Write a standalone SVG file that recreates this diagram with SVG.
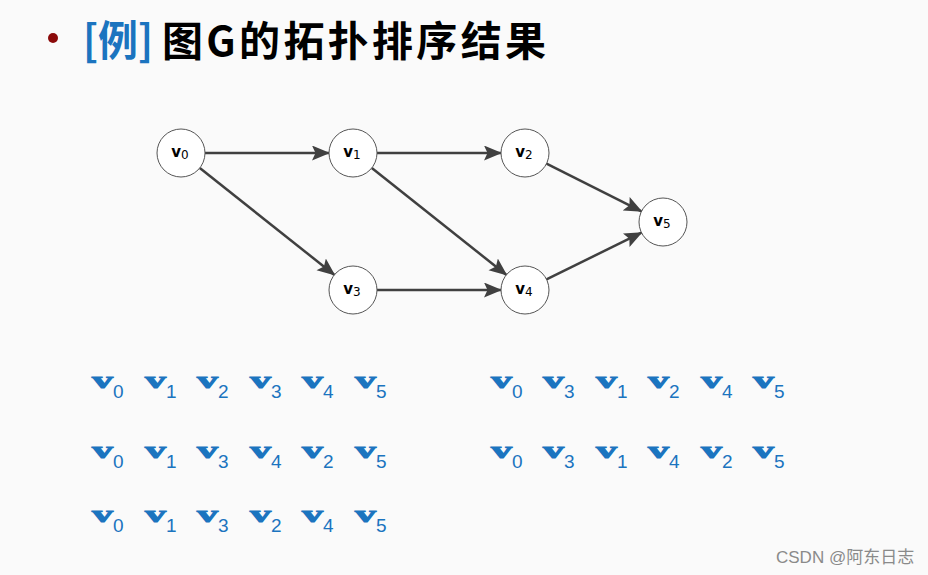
<svg xmlns="http://www.w3.org/2000/svg" width="928" height="575" viewBox="0 0 928 575">
<defs>
<marker id="ah" markerUnits="userSpaceOnUse" markerWidth="18" markerHeight="16" refX="17" refY="7.5" orient="auto">
<path d="M0,0 L18,7.5 L0,15 L3.5,7.5 z" fill="#404040"/>
</marker>
</defs>
<style>
.node circle{fill:#ffffff;stroke:#555555;stroke-width:1}
.node text{font-family:"DejaVu Sans",sans-serif;fill:#000;text-anchor:middle}
.lv{font-weight:bold;font-size:15px}
.ls{font-size:12px}
.edge{stroke:#404040;stroke-width:2.5;fill:none;marker-end:url(#ah)}
.seq text{fill:#1b74bf}
.sv{font-family:"Liberation Serif","Times New Roman",serif;font-weight:bold;font-size:23px;stroke:#1b74bf;stroke-width:0.9}
.ss{font-family:"Liberation Sans",Arial,sans-serif;font-size:19px}
</style>
<rect width="928" height="575" fill="#fafafa"/>
<g id="title">
<circle cx="53" cy="38" r="5" fill="#8b0a0a"/>
<text x="83" y="56" font-family="Noto Sans CJK SC" font-weight="bold" font-size="42" fill="#1b74bf" textLength="70" lengthAdjust="spacingAndGlyphs">[例]</text>
<text x="162" y="56" font-family="Noto Sans CJK SC" font-weight="bold" font-size="41" fill="#000" textLength="384" lengthAdjust="spacing">图G的拓扑排序结果</text>
</g>
<g id="connectors">
<line class="edge" x1="205" y1="153" x2="329" y2="153"/>
<line class="edge" x1="199.8" y1="168" x2="334.5" y2="275"/>
<line class="edge" x1="377" y1="153" x2="501" y2="153"/>
<line class="edge" x1="371.8" y1="168" x2="506.5" y2="275"/>
<line class="edge" x1="377" y1="290" x2="501" y2="290"/>
<line class="edge" x1="546.5" y1="163.7" x2="641.5" y2="211.3"/>
<line class="edge" x1="546.5" y1="279.3" x2="641.5" y2="232.7"/>
</g>
<g id="v0" class="node"><circle cx="181" cy="153" r="24"/><text x="180" y="157"><tspan class="lv">v</tspan><tspan class="ls" dy="2">0</tspan></text></g>
<g id="v1" class="node"><circle cx="353" cy="153" r="24"/><text x="352" y="157"><tspan class="lv">v</tspan><tspan class="ls" dy="2">1</tspan></text></g>
<g id="v2" class="node"><circle cx="525" cy="153" r="24"/><text x="524" y="157"><tspan class="lv">v</tspan><tspan class="ls" dy="2">2</tspan></text></g>
<g id="v3" class="node"><circle cx="353" cy="290" r="24"/><text x="352" y="294"><tspan class="lv">v</tspan><tspan class="ls" dy="2">3</tspan></text></g>
<g id="v4" class="node"><circle cx="525" cy="290" r="24"/><text x="524" y="294"><tspan class="lv">v</tspan><tspan class="ls" dy="2">4</tspan></text></g>
<g id="v5" class="node"><circle cx="663" cy="222" r="24"/><text x="662" y="226"><tspan class="lv">v</tspan><tspan class="ls" dy="2">5</tspan></text></g>
<g id="orders" class="seq">
<g id="row1">
<text class="sv" x="92" y="388" textLength="21" lengthAdjust="spacingAndGlyphs">v</text><text class="ss" x="113" y="398">0</text>
<text class="sv" x="145" y="388" textLength="21" lengthAdjust="spacingAndGlyphs">v</text><text class="ss" x="166" y="398">1</text>
<text class="sv" x="197" y="388" textLength="21" lengthAdjust="spacingAndGlyphs">v</text><text class="ss" x="218" y="398">2</text>
<text class="sv" x="250" y="388" textLength="21" lengthAdjust="spacingAndGlyphs">v</text><text class="ss" x="271" y="398">3</text>
<text class="sv" x="302" y="388" textLength="21" lengthAdjust="spacingAndGlyphs">v</text><text class="ss" x="323" y="398">4</text>
<text class="sv" x="355" y="388" textLength="21" lengthAdjust="spacingAndGlyphs">v</text><text class="ss" x="376" y="398">5</text>
</g>
<g id="row2">
<text class="sv" x="92" y="458" textLength="21" lengthAdjust="spacingAndGlyphs">v</text><text class="ss" x="113" y="468">0</text>
<text class="sv" x="145" y="458" textLength="21" lengthAdjust="spacingAndGlyphs">v</text><text class="ss" x="166" y="468">1</text>
<text class="sv" x="197" y="458" textLength="21" lengthAdjust="spacingAndGlyphs">v</text><text class="ss" x="218" y="468">3</text>
<text class="sv" x="250" y="458" textLength="21" lengthAdjust="spacingAndGlyphs">v</text><text class="ss" x="271" y="468">4</text>
<text class="sv" x="302" y="458" textLength="21" lengthAdjust="spacingAndGlyphs">v</text><text class="ss" x="323" y="468">2</text>
<text class="sv" x="355" y="458" textLength="21" lengthAdjust="spacingAndGlyphs">v</text><text class="ss" x="376" y="468">5</text>
</g>
<g id="row3">
<text class="sv" x="92" y="522" textLength="21" lengthAdjust="spacingAndGlyphs">v</text><text class="ss" x="113" y="532">0</text>
<text class="sv" x="145" y="522" textLength="21" lengthAdjust="spacingAndGlyphs">v</text><text class="ss" x="166" y="532">1</text>
<text class="sv" x="197" y="522" textLength="21" lengthAdjust="spacingAndGlyphs">v</text><text class="ss" x="218" y="532">3</text>
<text class="sv" x="250" y="522" textLength="21" lengthAdjust="spacingAndGlyphs">v</text><text class="ss" x="271" y="532">2</text>
<text class="sv" x="302" y="522" textLength="21" lengthAdjust="spacingAndGlyphs">v</text><text class="ss" x="323" y="532">4</text>
<text class="sv" x="355" y="522" textLength="21" lengthAdjust="spacingAndGlyphs">v</text><text class="ss" x="376" y="532">5</text>
</g>
<g id="row4">
<text class="sv" x="491" y="388" textLength="21" lengthAdjust="spacingAndGlyphs">v</text><text class="ss" x="512" y="398">0</text>
<text class="sv" x="543" y="388" textLength="21" lengthAdjust="spacingAndGlyphs">v</text><text class="ss" x="564" y="398">3</text>
<text class="sv" x="596" y="388" textLength="21" lengthAdjust="spacingAndGlyphs">v</text><text class="ss" x="617" y="398">1</text>
<text class="sv" x="648" y="388" textLength="21" lengthAdjust="spacingAndGlyphs">v</text><text class="ss" x="669" y="398">2</text>
<text class="sv" x="701" y="388" textLength="21" lengthAdjust="spacingAndGlyphs">v</text><text class="ss" x="722" y="398">4</text>
<text class="sv" x="753" y="388" textLength="21" lengthAdjust="spacingAndGlyphs">v</text><text class="ss" x="774" y="398">5</text>
</g>
<g id="row5">
<text class="sv" x="491" y="458" textLength="21" lengthAdjust="spacingAndGlyphs">v</text><text class="ss" x="512" y="468">0</text>
<text class="sv" x="543" y="458" textLength="21" lengthAdjust="spacingAndGlyphs">v</text><text class="ss" x="564" y="468">3</text>
<text class="sv" x="596" y="458" textLength="21" lengthAdjust="spacingAndGlyphs">v</text><text class="ss" x="617" y="468">1</text>
<text class="sv" x="648" y="458" textLength="21" lengthAdjust="spacingAndGlyphs">v</text><text class="ss" x="669" y="468">4</text>
<text class="sv" x="701" y="458" textLength="21" lengthAdjust="spacingAndGlyphs">v</text><text class="ss" x="722" y="468">2</text>
<text class="sv" x="753" y="458" textLength="21" lengthAdjust="spacingAndGlyphs">v</text><text class="ss" x="774" y="468">5</text>
</g>
</g>
<text x="776" y="563" font-family="Liberation Sans,Noto Sans CJK SC,sans-serif" font-size="17" fill="#8a8a8a">CSDN @阿东日志</text>
</svg>
